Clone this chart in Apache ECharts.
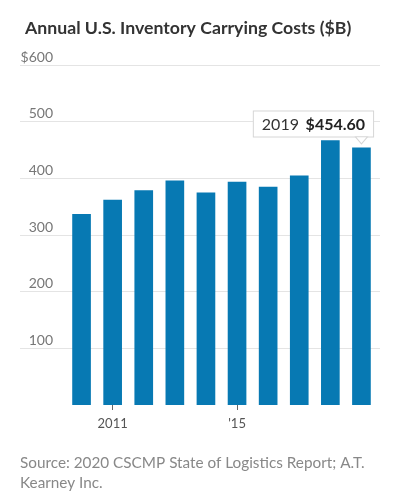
<!DOCTYPE html>
<html>
<head>
<meta charset="utf-8">
<script src="https://cdn.jsdelivr.net/npm/echarts@6/dist/echarts.min.js"></script>
<style>
    html, body { margin: 0; padding: 0; background: #fff; }
    #chart { width: 397px; height: 502px; }
</style>
</head>
<body>
<div id="chart"></div>
<script>
var years = ["2010", "2011", "2012", "2013", "2014", "2015", "2016", "2017", "2018", "2019"];
var xLabels = ["", "2011", "", "", "", "'15", "", "", "", ""];
var costs = [337, 362, 379, 396, 375, 394, 385, 405, 467, 454.6];
var yTicks = [0, 100, 200, 300, 400, 500, 600];

var font = "Lato";
var dom = document.getElementById("chart");
var myChart = echarts.init(dom);

var showTick = function (i) {
    return xLabels[i] !== "";
};

var barData = costs.map(function (v, i) {
    if (i != costs.length - 1) return v;
    return {
        value: v,
        label: {
            show: true,
            position: "top",
            distance: 11,
            offset: [-48, 0],
            backgroundColor: "#fff",
            borderColor: "#d6d6d6",
            borderWidth: 1,
            padding: [5, 8, 4, 8],
            formatter: function (p) {
                return "{a|" + years[p.dataIndex] + "}  {b|$" + p.value.toFixed(2) + "}";
            },
            rich: {
                a: { fontFamily: font, fontSize: 16, color: "#333" },
                b: { fontFamily: font, fontSize: 16, fontWeight: "bold", color: "#222" }
            }
        }
    };
});

var option = {
    animation: false,
    title: {
        text: "Annual U.S. Inventory Carrying Costs ($B)",
        left: 20,
        top: 14,
        textStyle: { fontFamily: font, fontSize: 17.7, fontWeight: "bold", color: "#333" }
    },
    grid: [
        { left: 20, right: 17, top: 65, bottom: 97, outerBoundsMode: "none" },
        { left: 66, right: 20, top: 65, bottom: 97, outerBoundsMode: "none" }
    ],
    xAxis: [
        { type: "category", gridIndex: 0, data: years, show: false },
        {
            type: "category",
            gridIndex: 1,
            data: years,
            axisLine: { show: false },
            axisTick: {
                show: true,
                alignWithLabel: true,
                interval: showTick,
                length: 5,
                lineStyle: { color: "#666" }
            },
            axisLabel: {
                interval: showTick,
                formatter: function (v, i) { return xLabels[i]; },
                margin: 12,
                fontFamily: font,
                fontSize: 13,
                color: "#555"
            }
        }
    ],
    yAxis: [
        {
            type: "value",
            gridIndex: 0,
            min: yTicks[0],
            max: yTicks[yTicks.length - 1],
            interval: 100,
            axisLine: { show: false },
            axisTick: { show: false },
            axisLabel: { show: false },
            splitLine: { show: true, showMinLine: false, lineStyle: { color: "#e4e4e4" } }
        },
        {
            type: "value",
            gridIndex: 1,
            min: yTicks[0],
            max: yTicks[yTicks.length - 1],
            interval: 100,
            axisLine: { show: false },
            axisTick: { show: false },
            splitLine: { show: false },
            axisLabel: {
                showMinLabel: false,
                align: "right",
                verticalAlign: "bottom",
                margin: 13,
                padding: [0, 0, 1, 0],
                fontFamily: font,
                fontSize: 14,
                color: "#777",
                formatter: function (v) { return v == 600 ? "$" + v : v; }
            }
        }
    ],
    series: [
        {
            type: "bar",
            xAxisIndex: 1,
            yAxisIndex: 1,
            barCategoryGap: "40%",
            itemStyle: { color: "#0779b3" },
            data: barData,
            markPoint: {
                silent: true,
                symbol: "triangle",
                symbolRotate: 180,
                symbolSize: [12, 7],
                symbolOffset: [0, -7],
                itemStyle: { color: "#fff", borderColor: "#d6d6d6", borderWidth: 1 },
                label: { show: false },
                data: [{ coord: [years.length - 1, costs[costs.length - 1]] }]
            }
        }
    ],
    graphic: [
        {
            type: "text",
            left: 20,
            top: 453,
            style: {
                text: "Source: 2020 CSCMP State of Logistics Report; A.T.\nKearney Inc.",
                fontFamily: font,
                fontSize: 15.3,
                lineHeight: 20,
                fill: "#888"
            }
        }
    ]
};

myChart.setOption(option);
</script>
</body>
</html>
